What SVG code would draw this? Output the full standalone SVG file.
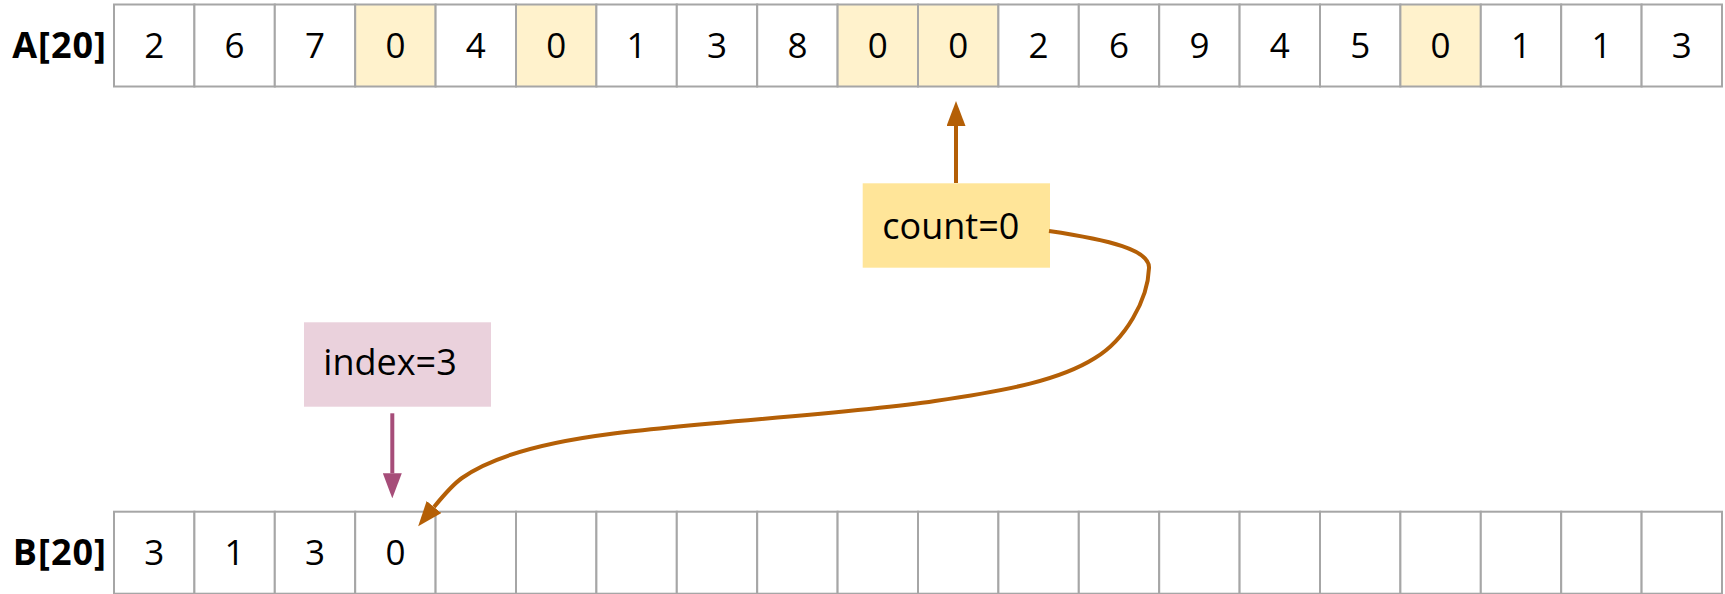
<svg xmlns="http://www.w3.org/2000/svg" width="1725" height="594" viewBox="0 0 1725 594">
<defs>
<style>
.cell{fill:#ffffff;stroke:#a6a6a6;stroke-width:2}
.hl{fill:#fff2cc}
.num{font-family:"Open Sans","Noto Sans",sans-serif;font-size:35px;fill:#000;text-anchor:middle}
.lbl{font-family:"Open Sans","Noto Sans",sans-serif;font-size:36px;font-weight:bold;fill:#000;text-anchor:end;letter-spacing:1px}
.txt{font-family:"Open Sans","Noto Sans",sans-serif;font-size:36px;fill:#000}
.brown{stroke:#b45f06;stroke-width:4;fill:none}
.pink{stroke:#a64d79;stroke-width:4;fill:none}
</style>
<marker id="ahB" viewBox="0 0 25 19" refX="0" refY="9.5" markerWidth="25" markerHeight="19" markerUnits="userSpaceOnUse" orient="auto"><path d="M0,0 L25,9.5 L0,19 z" fill="#b45f06"/></marker>
<marker id="ahP" viewBox="0 0 25 19" refX="0" refY="9.5" markerWidth="25" markerHeight="19" markerUnits="userSpaceOnUse" orient="auto"><path d="M0,0 L25,9.5 L0,19 z" fill="#a64d79"/></marker>
</defs>
<rect width="1725" height="594" fill="#ffffff"/>
<g id="arrayA">
<text class="lbl" x="107" y="58">A[20]</text>
<rect class="cell" x="114" y="4.5" width="80.4" height="82"/><text class="num" x="154.2" y="58">2</text>
<rect class="cell" x="194.4" y="4.5" width="80.4" height="82"/><text class="num" x="234.6" y="58">6</text>
<rect class="cell" x="274.8" y="4.5" width="80.4" height="82"/><text class="num" x="315" y="58">7</text>
<rect class="cell hl" x="355.2" y="4.5" width="80.4" height="82"/><text class="num" x="395.4" y="58">0</text>
<rect class="cell" x="435.6" y="4.5" width="80.4" height="82"/><text class="num" x="475.8" y="58">4</text>
<rect class="cell hl" x="516" y="4.5" width="80.4" height="82"/><text class="num" x="556.2" y="58">0</text>
<rect class="cell" x="596.4" y="4.5" width="80.4" height="82"/><text class="num" x="636.6" y="58">1</text>
<rect class="cell" x="676.8" y="4.5" width="80.4" height="82"/><text class="num" x="717" y="58">3</text>
<rect class="cell" x="757.2" y="4.5" width="80.4" height="82"/><text class="num" x="797.4" y="58">8</text>
<rect class="cell hl" x="837.6" y="4.5" width="80.4" height="82"/><text class="num" x="877.8" y="58">0</text>
<rect class="cell hl" x="918" y="4.5" width="80.4" height="82"/><text class="num" x="958.2" y="58">0</text>
<rect class="cell" x="998.4" y="4.5" width="80.4" height="82"/><text class="num" x="1038.6" y="58">2</text>
<rect class="cell" x="1078.8" y="4.5" width="80.4" height="82"/><text class="num" x="1119" y="58">6</text>
<rect class="cell" x="1159.2" y="4.5" width="80.4" height="82"/><text class="num" x="1199.4" y="58">9</text>
<rect class="cell" x="1239.6" y="4.5" width="80.4" height="82"/><text class="num" x="1279.8" y="58">4</text>
<rect class="cell" x="1320" y="4.5" width="80.4" height="82"/><text class="num" x="1360.2" y="58">5</text>
<rect class="cell hl" x="1400.4" y="4.5" width="80.4" height="82"/><text class="num" x="1440.6" y="58">0</text>
<rect class="cell" x="1480.8" y="4.5" width="80.4" height="82"/><text class="num" x="1521" y="58">1</text>
<rect class="cell" x="1561.2" y="4.5" width="80.4" height="82"/><text class="num" x="1601.4" y="58">1</text>
<rect class="cell" x="1641.6" y="4.5" width="80.4" height="82"/><text class="num" x="1681.8" y="58">3</text>
</g>
<g id="arrayB">
<text class="lbl" x="107" y="565">B[20]</text>
<rect class="cell" x="114" y="511.7" width="80.4" height="82"/><text class="num" x="154.2" y="565">3</text>
<rect class="cell" x="194.4" y="511.7" width="80.4" height="82"/><text class="num" x="234.6" y="565">1</text>
<rect class="cell" x="274.8" y="511.7" width="80.4" height="82"/><text class="num" x="315" y="565">3</text>
<rect class="cell" x="355.2" y="511.7" width="80.4" height="82"/><text class="num" x="395.4" y="565">0</text>
<rect class="cell" x="435.6" y="511.7" width="80.4" height="82"/>
<rect class="cell" x="516" y="511.7" width="80.4" height="82"/>
<rect class="cell" x="596.4" y="511.7" width="80.4" height="82"/>
<rect class="cell" x="676.8" y="511.7" width="80.4" height="82"/>
<rect class="cell" x="757.2" y="511.7" width="80.4" height="82"/>
<rect class="cell" x="837.6" y="511.7" width="80.4" height="82"/>
<rect class="cell" x="918" y="511.7" width="80.4" height="82"/>
<rect class="cell" x="998.4" y="511.7" width="80.4" height="82"/>
<rect class="cell" x="1078.8" y="511.7" width="80.4" height="82"/>
<rect class="cell" x="1159.2" y="511.7" width="80.4" height="82"/>
<rect class="cell" x="1239.6" y="511.7" width="80.4" height="82"/>
<rect class="cell" x="1320" y="511.7" width="80.4" height="82"/>
<rect class="cell" x="1400.4" y="511.7" width="80.4" height="82"/>
<rect class="cell" x="1480.8" y="511.7" width="80.4" height="82"/>
<rect class="cell" x="1561.2" y="511.7" width="80.4" height="82"/>
<rect class="cell" x="1641.6" y="511.7" width="80.4" height="82"/>
</g>
<g id="count">
<rect x="862.7" y="183.3" width="187.3" height="84.4" fill="#ffe599"/>
<text class="txt" x="882.3" y="238.5">count=0</text>
</g>
<g id="index">
<rect x="304" y="322.3" width="187" height="84.4" fill="#ead1dc"/>
<text class="txt" x="323.3" y="374.5">index=3</text>
</g>
<g id="connectors">
<path class="brown" d="M956,183 L956,126" marker-end="url(#ahB)"/>
<path class="brown" d="M1049,231 C1110,240 1150,250 1149,268 C1148,300 1125,340 1095,358 C1060,380 1010,390 935,401 C850,414 700,422 610,434 C540,443 490,458 462,478 C452,485 443,496 434,507" marker-end="url(#ahB)"/>
<path class="pink" d="M392.3,413.3 L392.3,473.3" marker-end="url(#ahP)"/>
</g>
</svg>
